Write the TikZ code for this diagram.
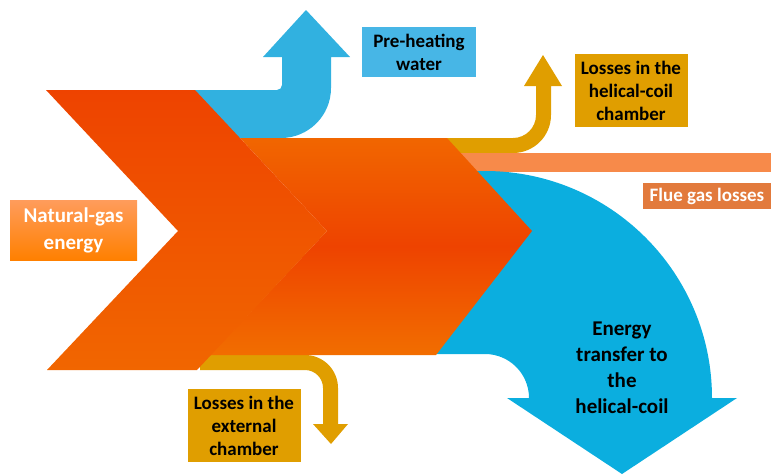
\documentclass[tikz,border=0pt]{standalone}
\usepackage{fontspec}
\setmainfont{Carlito}
\definecolor{gasred}{HTML}{EE4300}
\definecolor{gasorange}{HTML}{F16600}
\definecolor{waterblue}{HTML}{31B1E0}
\definecolor{waterlabel}{HTML}{47B6E6}
\definecolor{coilblue}{HTML}{0BAEDF}
\definecolor{lossgold}{HTML}{E09E00}
\definecolor{flueband}{HTML}{F78A4A}
\definecolor{fluelabel}{HTML}{E27A3C}
\definecolor{gaslabeltop}{HTML}{FF9C5C}
\definecolor{gaslabelbot}{HTML}{FF8000}

\begin{document}
\begin{tikzpicture}[
      x=1pt, y=-1pt,
      tag/.style={inner sep=0pt,align=center,font=\bfseries\fontsize{19}{23}\selectfont},
      losstag/.style={tag,fill=lossgold,minimum width=113pt,minimum height=73pt}
      ]
      \useasboundingbox (0,0) rectangle (771,474);
      \fill[waterblue] (190,90) -- (277,90) arc[start angle=90,end angle=0,radius=5] -- (282,57) -- (263,57) -- (306,10) -- (350,57) -- (331,57) -- (331,88) arc[start angle=0,end angle=90,radius=50] -- (190,138) -- cycle;
      \fill[lossgold] (440,138) -- (513,138) arc[start angle=90,end angle=0,radius=23] -- (536,86) -- (524,86) -- (543,55) -- (562,86) -- (551,86) -- (551,115) arc[start angle=0,end angle=90,radius=38] -- (440,153) -- cycle;
      \fill[flueband] (440,153) rectangle (771,172);
      \fill[coilblue] (440,171) -- (485,171) arc[start angle=-90,end angle=0,radius=227] -- (737,398) -- (622,474) -- (507,398) -- (529,398) arc[start angle=0,end angle=-90,radius=44] -- (420,354) -- cycle;
      \fill[lossgold] (200,355) -- (305,355) arc[start angle=-90,end angle=0,radius=33] -- (338,424) -- (348,424) -- (331,444) -- (313,424) -- (323,424) -- (323,388) arc[start angle=0,end angle=-90,radius=18] -- (200,370) -- cycle;
      \shade[top color=gasorange,bottom color=gasorange!95!yellow,middle color=gasred] (240,138) -- (447,138) -- (532,231) -- (436,355) -- (210,355) -- (327,231) -- cycle;
      \shade[top color=gasred,bottom color=gasorange] (46,90) -- (195,90) -- (327,231) -- (197,370) -- (47,370) -- (178,231) -- cycle;
      \node[tag,text=white,font=\bfseries\fontsize{21}{27}\selectfont,top color=gaslabeltop,bottom color=gaslabelbot,minimum width=127pt,minimum height=60pt] (gas) at (73.5,230) {Natural-gas\\energy};
      \node[tag,fill=waterlabel,minimum width=114pt,minimum height=50pt] (water) at (419,52) {Pre-heating\\water};
      \node[losstag] (coilloss) at (631,90.5) {Losses in the\\helical-coil\\chamber};
      \node[losstag] (extloss) at (244,425.5) {Losses in the\\external\\chamber};
      \node[tag,text=white,fill=fluelabel,minimum width=128pt,minimum height=26pt] (flue) at (707,196) {Flue gas losses};
      \node[tag,font=\bfseries\fontsize{21}{26}\selectfont] (coil) at (622,368) {Energy\\transfer to\\the\\helical-coil};
    \end{tikzpicture}
\end{document}
